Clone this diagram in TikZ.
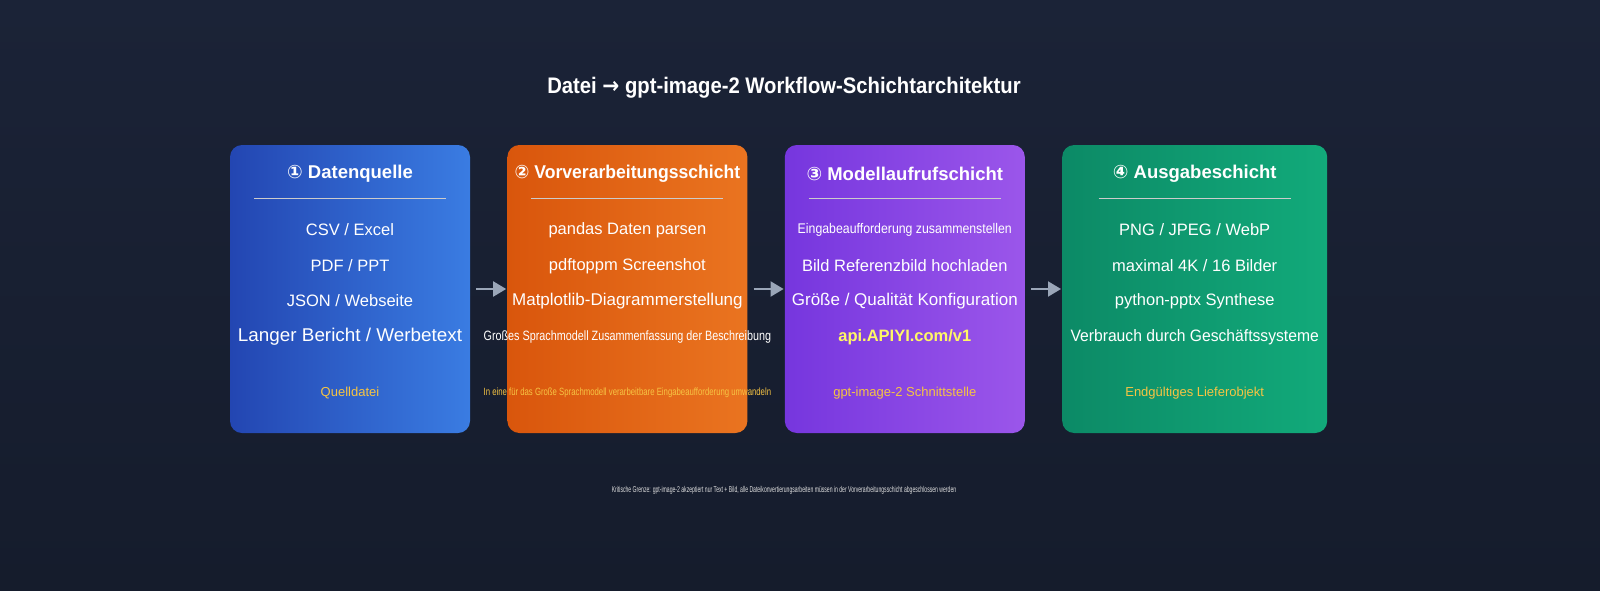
\documentclass[tikz,border=0pt]{standalone}
\usepackage{fontspec}
\setmainfont{Liberation Sans}
\newfontfamily\symfont{DejaVu Sans}
\usetikzlibrary{positioning,arrows.meta}
\definecolor{bgtop}{HTML}{1B2337}
\definecolor{bgbot}{HTML}{151C2C}
\definecolor{blueA}{HTML}{2346B2}
\definecolor{blueB}{HTML}{3A7CE2}
\definecolor{orA}{HTML}{D9560C}
\definecolor{orB}{HTML}{EA7420}
\definecolor{puA}{HTML}{7636DE}
\definecolor{puB}{HTML}{9B56EA}
\definecolor{grA}{HTML}{0C8A66}
\definecolor{grB}{HTML}{12AA7A}
\definecolor{gold}{HTML}{F6C443}
\definecolor{arrowgray}{HTML}{9AA6B8}
\newcommand{\sx}[2]{\scalebox{#1}[1]{#2}}
\begin{document}
\begin{tikzpicture}
  [x=1pt,y=-1pt,
 layer/.style={
  rectangle,
 rounded corners=12pt,
  minimum height=288pt,
  inner sep=0pt},
 head/.style={font=\fontsize{18.5}{20}\selectfont\bfseries, text=white},
 item/.style={font=\fontsize{16.5}{18}\selectfont, text=white},
 foot/.style={font=\fontsize{13}{14}\selectfont, text=gold},
 sep/.style={white!60!gray, line width=0.6pt},
 tip/.style={-{Triangle[length=13pt,width=15pt]}, arrowgray, line width=2pt}]
\shade[top color=bgtop, bottom color=bgbot] (0,0) rectangle (1600,590);
\useasboundingbox (0,0) rectangle (1600,590);
\node (title) at (784,88) [font=\fontsize{22.5}{24}\selectfont\bfseries, text=white]
  {\sx{0.9}{Datei {\symfont →} gpt-image-2 Workflow-Schichtarchitektur}};
% layer boxes
\node (src) at (350,289) [layer, minimum width=240pt, left color=blueA, right color=blueB] {};
\node (pre) [layer, minimum width=240pt, right=37pt of src, left color=orA, right color=orB] {};
\node (mod) [layer, minimum width=240pt, right=37pt of pre, left color=puA, right color=puB] {};
\node (out) [layer, minimum width=265pt, right=37pt of mod, left color=grA, right color=grB] {};
% headers and rules
\node (srch) at (src.north |- 0,174) [head] {{\symfont ①} Datenquelle};
\node (preh) at (pre.north |- 0,174) [head] {\sx{0.95}{{\symfont ②} Vorverarbeitungsschicht}};
\node (modh) at (mod.north |- 0,174) [head] {{\symfont ③} Modellaufrufschicht};
\node (outh) at (out.north |- 0,174) [head] {{\symfont ④} Ausgabeschicht};
\foreach \b in {src,pre,mod,out}
  \draw[sep] ([xshift=-96pt]\b.north |- 0,198) -- ([xshift=96pt]\b.north |- 0,198);
% source
\node (s1) at (src.north |- 0,230) [item] {CSV / Excel};
\node (s2) at (src.north |- 0,266) [item] {PDF / PPT};
\node (s3) at (src.north |- 0,301) [item] {JSON / Webseite};
\node (s4) at (src.north |- 0,337) [item] {\fontsize{18.5}{20}\selectfont\sx{1.02}{Langer Bericht / Werbetext}};
\node (s5) at (src.north |- 0,393) [foot] {Quelldatei};
% preprocessing
\node (p1) at (pre.north |- 0,230) [item] {pandas Daten parsen};
\node (p2) at (pre.north |- 0,266) [item] {pdftoppm Screenshot};
\node (p3) at (pre.north |- 0,301) [item] {\fontsize{17}{19}\selectfont Matplotlib-Diagrammerstellung};
\node (p4) at (pre.north |- 0,337) [item] {\fontsize{13.5}{15}\selectfont\sx{0.8}{Großes Sprachmodell Zusammenfassung der Beschreibung}};
\node (p5) at (pre.north |- 0,393) [foot] {\fontsize{10.5}{12}\selectfont\sx{0.74}{In eine für das Große Sprachmodell verarbeitbare Eingabeaufforderung umwandeln}};
% model
\node (m1) at (mod.north |- 0,230) [item] {\fontsize{14}{15}\selectfont\sx{0.88}{Eingabeaufforderung zusammenstellen}};
\node (m2) at (mod.north |- 0,266) [item] {Bild Referenzbild hochladen};
\node (m3) at (mod.north |- 0,301) [item] {\fontsize{17}{19}\selectfont Größe / Qualität Konfiguration};
\node (m4) at (mod.north |- 0,337) [item, text=yellow!60!white] {\bfseries api.APIYI.com/v1};
\node (m5) at (mod.north |- 0,393) [foot] {gpt-image-2 Schnittstelle};
% output
\node (o1) at (out.north |- 0,230) [item] {PNG / JPEG / WebP};
\node (o2) at (out.north |- 0,266) [item] {maximal 4K / 16 Bilder};
\node (o3) at (out.north |- 0,301) [item] {python-pptx Synthese};
\node (o4) at (out.north |- 0,337) [item] {\sx{0.95}{Verbrauch durch Geschäftssysteme}};
\node (o5) at (out.north |- 0,393) [foot] {Endgültiges Lieferobjekt};
% arrows
\draw[tip] ([xshift=6pt]src.east) -- ([xshift=-1pt]pre.west);
\draw[tip] ([xshift=6pt]pre.east) -- ([xshift=-1pt]mod.west);
\draw[tip] ([xshift=6pt]mod.east) -- ([xshift=-1pt]out.west);
\node (note) at (784,490) [font=\fontsize{8.5}{9}\selectfont, text=white!75!gray]
  {\sx{0.6}{Kritische Grenze: gpt-image-2 akzeptiert nur Text + Bild, alle Dateikonvertierungsarbeiten müssen in der Vorverarbeitungsschicht abgeschlossen werden}};
\end{tikzpicture}
\end{document}
